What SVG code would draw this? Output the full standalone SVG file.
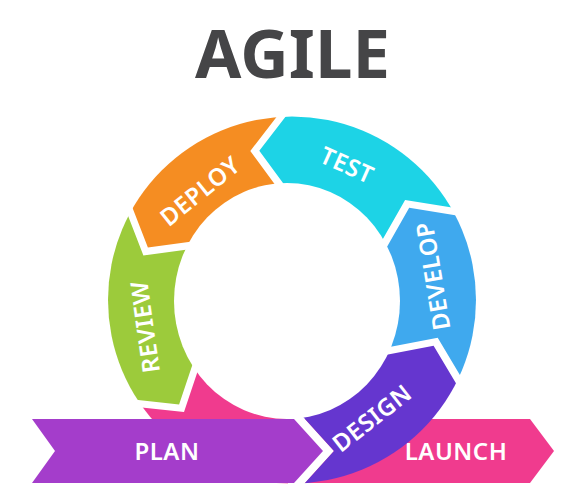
<svg xmlns="http://www.w3.org/2000/svg" width="576" height="500" viewBox="0 0 576 500">
<style>
.lbl{fill:#fff;font-family:"Noto Sans","Open Sans","DejaVu Sans",sans-serif;font-weight:600;font-size:24px;letter-spacing:0.5px;text-anchor:middle}
.title{fill:#454547;font-family:"Noto Sans","Open Sans","DejaVu Sans",sans-serif;font-weight:700;font-size:67px;text-anchor:middle}
.ring{mask:url(#ring)}
</style>
<defs>
<mask id="ring" maskUnits="userSpaceOnUse" x="0" y="0" width="576" height="500">
<ellipse cx="292" cy="300" rx="184" ry="183.5" fill="#fff"/>
<ellipse cx="287" cy="301" rx="113" ry="118" fill="#000"/>
</mask>
</defs>
<rect width="576" height="500" fill="#fff"/>
<g id="title"><text class="title" x="292.5" y="78" textLength="195">AGILE</text></g>

<g id="launch-ring">
<path class="ring" fill="#F03B8E" d="M288,300 L206.3,345.4 L184,412 L113.6,404.4 L19.6,474.3 L137.8,582.5 L288,620 Z"/>
</g>
<g id="launch">
<path fill="#F03B8E" d="M305,419 L530,419 L554,451 L530,483 L305,483 L334,451 Z"/>
<text class="lbl" x="456" y="451" dy="0.36em">LAUNCH</text>
</g>
<g id="review">
<path class="ring" fill="#9CCB3B" d="M108.7,396.8 L179.1,404.4 L201.4,337.9 L288,300 L213.5,245.9 L143.4,255.4 L117.5,188.5 L10.9,140 L-32,300 L19.6,474.3 Z"/>
<text class="lbl" x="145" y="327" dy="0.36em" transform="rotate(-98 145 327)">REVIEW</text>
</g>
<g id="deploy">
<path class="ring" fill="#F58D22" d="M122,180.7 L147.9,247.6 L218,238.1 L288,300 L290.7,206 L250.3,151 L295,93.1 L276.8,-19.8 L123.2,25.7 L10.9,140 Z"/>
<text class="lbl" x="200" y="191" dy="0.36em" transform="rotate(-39 200 191)">DEPLOY</text>
</g>
<g id="test">
<path class="ring" fill="#1DD3E6" d="M304,92.7 L259.3,150.7 L299.7,205.7 L288,300 L367.7,265.6 L405.1,199.9 L483.2,212.5 L571.8,152.2 L448,22.9 L276.8,-19.8 Z"/>
<text class="lbl" x="347" y="165" dy="0.36em" transform="rotate(24 347 165)">TEST</text>
</g>
<g id="develop">
<path class="ring" fill="#3FA9EE" d="M487.4,220.5 L409.2,207.8 L371.8,273.6 L288,300 L359.6,352.7 L437.7,337.8 L475.7,401.6 L573.1,445.3 L608,300 L571.8,152.2 Z"/>
<text class="lbl" x="433" y="276" dy="0.36em" transform="rotate(-99.5 433 276)">DEVELOP</text>
</g>
<g id="design">
<path class="ring" fill="#6536CF" d="M471.6,409.6 L433.6,345.8 L355.5,360.7 L288,300 L290.5,403 L334,451 L287.6,502.2 L288,620 L448,577.1 L573.1,445.3 Z"/>
<text class="lbl" x="372" y="418" dy="0.36em" transform="rotate(-38 372 418)">DESIGN</text>
</g>
<g id="plan">
<path fill="#A43DCB" d="M32,419 L294,419 L323,451 L294,483 L32,483 L55,451 Z"/>
<text class="lbl" x="167" y="451" dy="0.36em">PLAN</text>
</g>
</svg>
